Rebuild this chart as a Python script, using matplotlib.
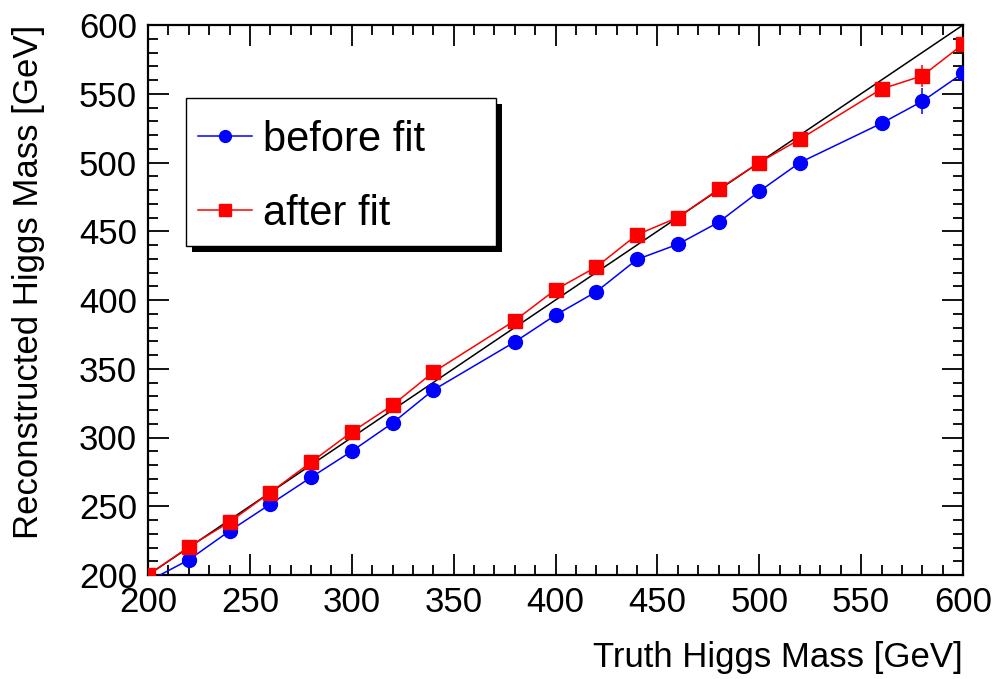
import matplotlib
matplotlib.use("Agg")
import matplotlib.pyplot as plt
from matplotlib.patches import Rectangle
from matplotlib.ticker import MultipleLocator

plt.rcParams['font.family'] = ['Liberation Sans', 'DejaVu Sans']

truth_mass = [200, 220, 240, 260, 280, 300, 320, 340, 380, 400,
              420, 440, 460, 480, 500, 520, 560, 580, 600]
before_fit = [195.4, 211, 232, 251.5, 271, 290, 310.5, 334.5, 369.5, 389,
              406, 429.5, 440.5, 456.5, 479, 500, 528.5, 544.5, 565]
before_err = [1, 1, 1, 1, 1, 1, 1, 1, 1, 1,
              1, 1, 1, 1, 1, 1, 1, 9.5, 1]
after_fit = [200, 220.4, 238.5, 260, 282, 304, 323.5, 347.5, 385, 407.5,
             424, 447.5, 460, 480.5, 500, 517, 553.5, 563, 586]
after_err = [1, 1, 1, 1, 1, 1, 1, 1, 1, 1,
             1, 1, 1, 1, 1, 1, 1, 8, 1]

fig = plt.figure(figsize=(9.98, 6.79), dpi=100)
ax = fig.add_axes([148/998, 1 - 575/679, 815/998, 550/679])

ax.plot([200, 600], [200, 600], color='black', lw=1.1, zorder=2)
ax.errorbar(truth_mass, before_fit, yerr=before_err, color='#0000ff', marker='o',
            markersize=10, lw=1.1, elinewidth=1.1, capsize=0, label='before fit', zorder=3)
ax.errorbar(truth_mass, after_fit, yerr=after_err, color='#ff0000', marker='s',
            markersize=9.5, lw=1.1, elinewidth=1.1, capsize=0, label='after fit', zorder=4)

ax.set_xlim(200, 600)
ax.set_ylim(200, 600)
ax.xaxis.set_major_locator(MultipleLocator(50))
ax.xaxis.set_minor_locator(MultipleLocator(10))
ax.yaxis.set_major_locator(MultipleLocator(50))
ax.yaxis.set_minor_locator(MultipleLocator(10))
ax.tick_params(which='both', direction='in', top=True, right=True, labelsize=25, width=1.3)
ax.tick_params(which='major', length=15, pad=8)
ax.tick_params(which='minor', length=7.5)
for s in ax.spines.values():
    s.set_linewidth(1.6)

ax.set_xlabel('Truth Higgs Mass [GeV]', fontsize=25, loc='right', labelpad=16)
ax.set_ylabel('Reconstructed Higgs Mass [GeV]', fontsize=25, loc='top', labelpad=24)

# ROOT-style legend box with a black drop shadow
ax.add_patch(Rectangle((0.0466 + 0.0074, 0.598 - 0.0109), 0.3804, 0.269,
                       transform=ax.transAxes, facecolor='black', edgecolor='none',
                       zorder=8, clip_on=False))
ax.add_patch(Rectangle((0.0466, 0.598), 0.3804, 0.269, transform=ax.transAxes,
                       facecolor='white', edgecolor='black', lw=1.0, zorder=9,
                       clip_on=False))

handles, labels = ax.get_legend_handles_labels()
handles = [h[0] for h in handles]
leg = ax.legend(handles, labels, loc='upper left', bbox_to_anchor=(0.0613, 0.828),
                fontsize=30, frameon=False, handlelength=1.3, handletextpad=0.27,
                borderpad=0, labelspacing=0.82, markerscale=0.85, borderaxespad=0)
leg.set_zorder(10)

fig.savefig('out.png', dpi=100)
